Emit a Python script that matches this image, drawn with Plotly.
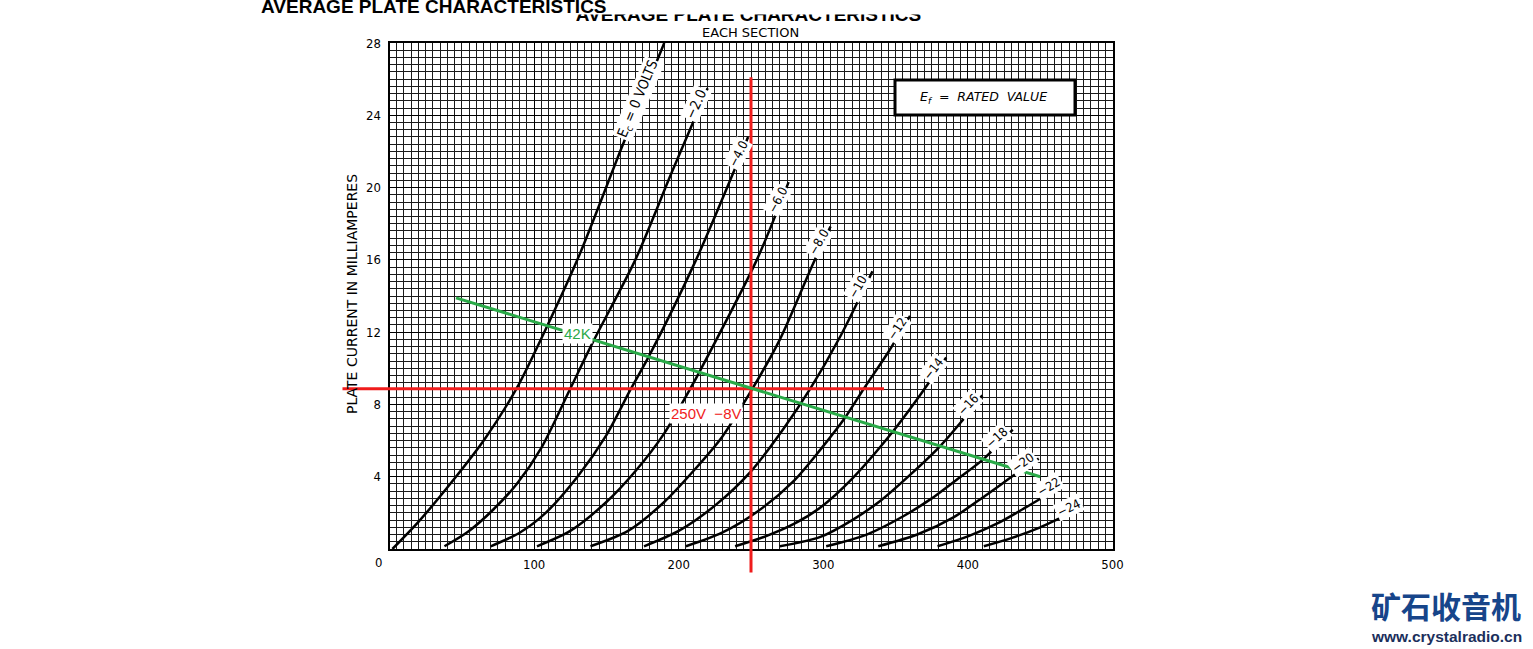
import plotly.graph_objects as go

# ---------------- data ----------------
plate_v_ticks = [100, 200, 300, 400, 500]
plate_i_ticks = [4, 8, 12, 16, 20, 24, 28]

ec_0_v = [2, 20, 44, 66, 88, 110, 132, 161, 190]
ec_0_i = [0.0, 1.5, 3.8, 6.1, 8.9, 12.5, 16.4, 22.3, 28.0]
ec_2_v = [38, 55, 72, 88, 105, 125, 141, 170, 195, 220]
ec_2_i = [0.15, 1.0, 2.2, 3.6, 5.6, 8.87, 11.5, 16.0, 20.8, 25.5]
ec_4_v = [70, 90, 108, 130, 150, 167, 179, 212, 248]
ec_4_i = [0.15, 0.9, 2.0, 4.0, 6.3, 8.87, 10.6, 16.0, 22.8]
ec_6_v = [102, 125, 150, 170, 190, 208, 215, 254, 276]
ec_6_i = [0.15, 1.0, 2.6, 4.3, 6.4, 8.87, 9.9, 16.0, 20.3]
ec_8_v = [139, 165, 190, 210, 230, 251, 270, 293, 305]
ec_8_i = [0.15, 1.0, 2.6, 4.3, 6.2, 8.87, 11.6, 15.8, 17.85]
ec_10_v = [176, 200, 225, 250, 272, 291, 312, 334]
ec_10_i = [0.15, 1.0, 2.4, 4.3, 6.6, 8.87, 11.8, 15.37]
ec_12_v = [205, 230, 255, 280, 298, 315, 328, 345, 360]
ec_12_i = [0.15, 0.9, 2.1, 3.8, 5.5, 7.26, 8.87, 10.9, 12.9]
ec_14_v = [239, 260, 280, 298, 320, 348, 365, 385]
ec_14_i = [0.15, 0.7, 1.4, 2.3, 3.9, 6.49, 8.3, 10.6]
ec_16_v = [270, 298, 320, 340, 360, 381, 395, 410]
ec_16_i = [0.15, 0.67, 1.6, 2.7, 4.1, 5.71, 7.0, 8.5]
ec_18_v = [302, 330, 355, 375, 395, 411, 431]
ec_18_i = [0.15, 0.8, 1.8, 2.8, 4.0, 4.99, 6.6]
ec_20_v = [338, 365, 390, 412, 436, 449]
ec_20_i = [0.15, 0.8, 1.75, 2.95, 4.32, 5.0]
ec_22_v = [379, 400, 420, 440, 465]
ec_22_i = [0.15, 0.7, 1.4, 2.3, 3.5]
ec_24_v = [411, 430, 450, 465, 480]
ec_24_i = [0.15, 0.6, 1.2, 1.75, 2.3]

curve_labels = ["E<sub>c</sub> = 0 VOLTS", "−2.0", "−4.0", "−6.0", "−8.0", "−10", "−12",
                "−14", "−16", "−18", "−20", "−22", "−24"]
label_v = [172, 212, 241, 268, 297, 324, 351, 376, 400, 420, 438, 456, 470]
label_i = [24.9, 24.6, 21.9, 19.3, 17.0, 14.5, 12.2, 10.0, 8.0, 6.15, 4.77, 3.44, 2.27]
label_angle = [-67, -65, -63, -62, -60, -60, -56, -52, -47, -42, -36, -31, -26]

# operating point / load line
op_v = 250
op_i = 8.87
op_vline_i = [-1.3, 26.1]
op_hline_v = [-32.5, 342]
load_v = [46, 450]
load_i = [13.9, 4.0]
load_label = "42K"
load_label_v, load_label_i = 130, 11.9
op_label = "250V  −8V"
op_label_v, op_label_i = 219, 7.5

curves = [(ec_0_v, ec_0_i), (ec_2_v, ec_2_i), (ec_4_v, ec_4_i), (ec_6_v, ec_6_i),
          (ec_8_v, ec_8_i), (ec_10_v, ec_10_i), (ec_12_v, ec_12_i), (ec_14_v, ec_14_i),
          (ec_16_v, ec_16_i), (ec_18_v, ec_18_i), (ec_20_v, ec_20_i), (ec_22_v, ec_22_i),
          (ec_24_v, ec_24_i)]

# ---------------- layout geometry (page pixels) ----------------
W, H = 1533, 649
PL, PR, PT, PB = 389.5, 1112.5, 43, 549
V_MAX, I_MAX = 500, 28


def fx(p):
    return p / W


def fy(p):
    return 1 - p / H


v_per_px = V_MAX / (PR - PL)
i_per_px = I_MAX / (PB - PT)
OL, OB = 330, 590
ov_range_x = [-(PL - OL) * v_per_px, V_MAX]
ov_range_y = [-(OB - PB) * i_per_px, I_MAX]

COND = "DejaVu Sans Condensed, DejaVu Sans, sans-serif"
SANS = "DejaVu Sans, sans-serif"
ARIAL = "Liberation Sans, Arial, sans-serif"
RED = "#f01c1c"
GREEN = "#2aaa48"

fig = go.Figure()

for v, i in curves:
    fig.add_trace(go.Scatter(x=v, y=i, mode="lines", xaxis="x", yaxis="y",
                             line=dict(color="black", width=2.5, shape="spline", smoothing=0.8),
                             hoverinfo="skip", showlegend=False))

fig.add_trace(go.Scatter(x=[op_v, op_v], y=op_vline_i, mode="lines", xaxis="x2", yaxis="y2",
                         line=dict(color=RED, width=3), hoverinfo="skip", showlegend=False))
fig.add_trace(go.Scatter(x=op_hline_v, y=[op_i, op_i], mode="lines", xaxis="x2", yaxis="y2",
                         line=dict(color=RED, width=3), hoverinfo="skip", showlegend=False))
fig.add_trace(go.Scatter(x=load_v, y=load_i, mode="lines", xaxis="x2", yaxis="y2",
                         line=dict(color=GREEN, width=3), hoverinfo="skip", showlegend=False))

# partly hidden duplicate title (clipped to a thin strip)
fig.add_trace(go.Scatter(x=[748.5], y=[8.0], mode="text", xaxis="x3", yaxis="y3",
                         text=["AVERAGE PLATE CHARACTERISTICS"], cliponaxis=True,
                         textfont=dict(family=ARIAL, size=19, color="black", weight="bold"),
                         hoverinfo="skip", showlegend=False))

ann = []
for t, v, i, a in zip(curve_labels, label_v, label_i, label_angle):
    ann.append(dict(x=v, y=i, xref="x", yref="y", text=t, showarrow=False, textangle=a,
                    xanchor="center", yanchor="middle",
                    font=dict(family=COND, size=12.5 if i < 24 else 14, color="black"),
                    bgcolor="white", borderpad=1))


def pann(x, y, text, **kw):
    d = dict(x=fx(x), y=fy(y), xref="paper", yref="paper", text=text, showarrow=False,
             xanchor="center", yanchor="middle")
    d.update(kw)
    return d


ann += [
    dict(x=load_label_v, y=load_label_i, xref="x", yref="y", text=load_label, showarrow=False,
         xanchor="center", yanchor="middle",
         font=dict(family=ARIAL, size=15, color=GREEN), bgcolor="white", borderpad=1),
    dict(x=op_label_v, y=op_label_i, xref="x", yref="y", text=op_label, showarrow=False,
         xanchor="center", yanchor="middle",
         font=dict(family=ARIAL, size=15, color=RED), bgcolor="white", borderpad=1),
    pann(433.5, 6.3, "<b>AVERAGE PLATE CHARACTERISTICS</b>", font=dict(family=ARIAL, size=19, color="black")),
    pann(750, 33, "EACH SECTION", font=dict(family=SANS, size=13, color="black")),
    pann(352, 294, "PLATE CURRENT IN MILLIAMPERES", textangle=-90,
         font=dict(family=SANS, size=14, color="black")),
    pann(378, 562, "0", font=dict(family=COND, size=13, color="black")),
    pann(983, 97.5, "<i>E<sub>f</sub>  =  RATED  VALUE</i>", font=dict(family=SANS, size=12.5, color="black")),
    pann(1446, 605, "<b>矿石收音机</b>", font=dict(family="Noto Sans CJK SC", size=30, color="#17458a")),
    pann(1446, 636, "<b>www.crystalradio.cn</b>", font=dict(family=ARIAL, size=15.5, color="#1b2f5c")),
]

shapes = [dict(type="rect", xref="paper", yref="paper", x0=fx(895), x1=fx(1075), y0=fy(115), y1=fy(80),
               line=dict(color="black", width=3), fillcolor="white", layer="above")]

fig.update_layout(
    template="none",
    width=W, height=H, autosize=False,
    margin=dict(l=0, r=0, t=0, b=0, pad=0, autoexpand=False),
    paper_bgcolor="white", plot_bgcolor="rgba(0,0,0,0)",
    showlegend=False,
    annotations=ann, shapes=shapes,
    xaxis=dict(domain=[fx(PL), fx(PR)], range=[0, V_MAX], tickmode="array", tickvals=plate_v_ticks,
               ticks="", showline=True, linecolor="black", linewidth=2, mirror=True,
               showgrid=True, gridcolor="black", gridwidth=1.3, zeroline=False, automargin=False,
               tickfont=dict(family=COND, size=13, color="black"), ticklabelstandoff=2,
               minor=dict(tickmode="linear", tick0=0, dtick=5, showgrid=True, gridcolor="#1a1a1a",
                          gridwidth=1, ticks=""),
               fixedrange=True),
    yaxis=dict(domain=[fy(PB), fy(PT)], range=[0, I_MAX], tickmode="array", tickvals=plate_i_ticks,
               ticks="", showline=True, linecolor="black", linewidth=2, mirror=True,
               showgrid=True, gridcolor="black", gridwidth=1.3, zeroline=False, automargin=False,
               tickfont=dict(family=COND, size=13, color="black"), ticklabelstandoff=4,
               minor=dict(tickmode="linear", tick0=0, dtick=0.4, showgrid=True, gridcolor="#1a1a1a",
                          gridwidth=1, ticks=""),
               fixedrange=True),
    xaxis2=dict(domain=[fx(OL), fx(PR)], range=ov_range_x, visible=False, fixedrange=True, automargin=False),
    yaxis2=dict(domain=[fy(OB), fy(PT)], range=ov_range_y, visible=False, fixedrange=True, automargin=False),
    xaxis3=dict(domain=[0, 1], range=[0, W], visible=False, fixedrange=True, automargin=False),
    yaxis3=dict(domain=[fy(24), fy(14.5)], range=[0, 9.5], visible=False, fixedrange=True, automargin=False),
)

fig.write_html("out.html", config={"displayModeBar": False},
               post_script="document.body.style.margin='0';document.body.style.overflow='hidden';")
